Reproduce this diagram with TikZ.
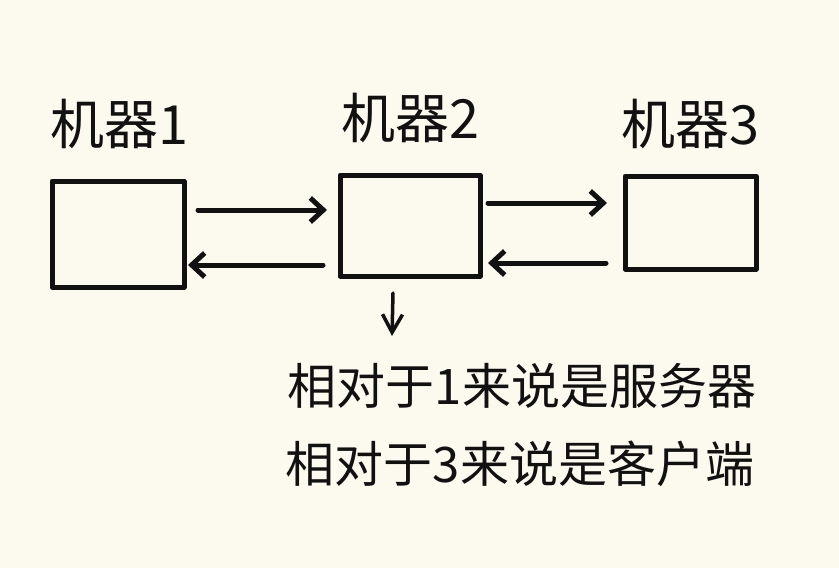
\documentclass[tikz,border=0pt]{standalone}
\usepackage{fontspec}
\newfontfamily\cjk{Noto Sans CJK SC}
\usetikzlibrary{arrows.meta}
\definecolor{bg}{HTML}{FCF9EE}
\definecolor{ink}{HTML}{111111}
\begin{document}
\begin{tikzpicture}[x=1pt,y=-1pt,
  machine/.style={draw=ink,line width=5pt,line join=round},
  link/.style={draw=ink,line width=5pt,line cap=round,-{Straight Barb[length=13pt,width=24pt,line width=5pt]}},
  lbl/.style={font=\cjk\fontsize{54}{60}\selectfont,text=ink,inner sep=0pt},
  note/.style={font=\cjk\fontsize{49}{56}\selectfont,text=ink,inner sep=0pt}]
\fill[bg] (0,0) rectangle (839,568);
\useasboundingbox (0,0) rectangle (839,568);
\path[machine] (52,181) rectangle (184,287);
\path[machine] (340,175) rectangle (480,276);
\path[machine] (625,176) rectangle (756,269);
\node[lbl] (t1) at (119,124) {机器1};
\node[lbl] (t2) at (410,118) {机器2};
\node[lbl] (t3) at (690,124) {机器3};
\coordinate (a1s) at (198,210); \coordinate (a1e) at (327,210);
\coordinate (b1s) at (323,265); \coordinate (b1e) at (188,265);
\coordinate (a2s) at (488,203); \coordinate (a2e) at (607,203);
\coordinate (b2s) at (606,263); \coordinate (b2e) at (488,263);
\draw[link] (a1s) -- (a1e);
\draw[link] (b1s) -- (b1e);
\draw[link] (a2s) -- (a2e);
\draw[link] (b2s) -- (b2e);
\coordinate (d1) at (393,293); \coordinate (d2) at (392,336);
\draw[draw=ink,line width=3.5pt,line cap=round,-{Straight Barb[length=18pt,width=20pt,line width=3.5pt]}] (d1) -- (d2);
\node[note] (n1) at (522,386) {相对于1来说是服务器};
\node[note] (n2) at (520,464) {相对于3来说是客户端};
\end{tikzpicture}
\end{document}
